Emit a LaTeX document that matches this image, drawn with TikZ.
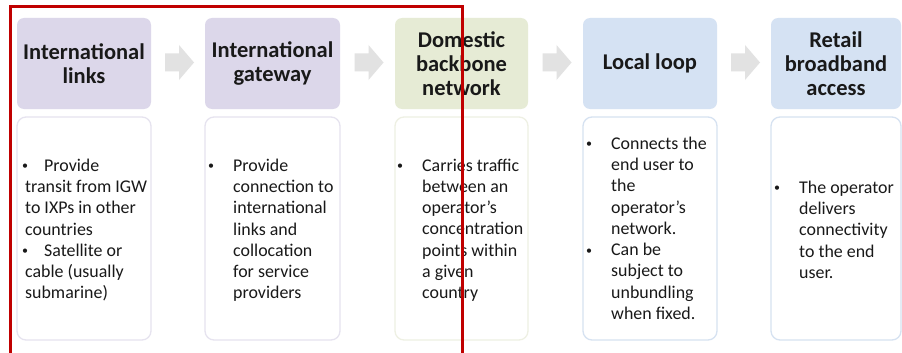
\documentclass[tikz,border=0pt]{standalone}
\usepackage{fontspec}
\setmainfont{Carlito}
\usetikzlibrary{calc}
\definecolor{hpurple}{HTML}{DCD7EA}
\definecolor{hgreen}{HTML}{E6EBD5}
\definecolor{hblue}{HTML}{D5E2F3}
\definecolor{bpurple}{HTML}{E6E3EF}
\definecolor{bgreen}{HTML}{EEF0E3}
\definecolor{bblue}{HTML}{D6E2F1}
\definecolor{arrowgray}{HTML}{E2E2E2}
\definecolor{framered}{HTML}{C00000}
\tikzset{
  head/.style={rounded corners=7pt, inner sep=0pt, align=center,
    font=\bfseries\fontsize{22.5}{24}\selectfont, text=black!90},
  bodybox/.style={rounded corners=9pt, fill=white, line width=1.3pt},
  body/.style={anchor=north west, align=left, inner sep=0pt,
    font=\fontsize{17.9}{21.3}\selectfont, text=black!90},
  flowarrow/.style={fill=arrowgray}
}
\newcommand{\smallbul}{\raisebox{1.5pt}{\fontsize{12}{12}\selectfont\textbullet}}
\newcommand{\blt}{\llap{\smallbul\hspace{19pt}}}
\begin{document}
\begin{tikzpicture}[x=1pt,y=-1pt]
\useasboundingbox (0,0) rectangle (902,353);
\fill[white] (0,0) rectangle (902,353);
% header boxes
\node[head, fill=hpurple, minimum width=134pt, minimum height=91pt] (h1) at (84,63.5) {\rule{0pt}{2pt}International\\links};
\node[head, fill=hpurple, minimum width=135pt, minimum height=91pt] (h2) at (272.5,63.5) {International\\gateway};
\node[head, fill=hgreen, minimum width=133pt, minimum height=91pt] (h3) at (461.5,63.5) {Domestic\\backbone\\network};
\node[head, fill=hblue, minimum width=134pt, minimum height=91pt] (h4) at (650,63.5) {Local loop};
\node[head, fill=hblue, minimum width=130pt, minimum height=91pt] (h5) at (836,63.5) {Retail\\broadband\\access};
% body boxes
\draw[bodybox, draw=bpurple] (17,117) rectangle (151,340);
\draw[bodybox, draw=bpurple] (205,117) rectangle (340,340);
\draw[bodybox, draw=bgreen] (395,117) rectangle (528,340);
\draw[bodybox, draw=bblue] (583,117) rectangle (717,340);
\draw[bodybox, draw=bblue] (771,117) rectangle (901,340);
% arrows
\foreach \a/\b/\n in {h1/h2/1,h2/h3/2,h3/h4/3,h4/h5/4}{
  \coordinate (m\n) at ($(\a.east)!0.5!(\b.west)+(1,-1)$);
  \fill[flowarrow] (m\n) ++(-14,-9) -- ++(14,0) -- ++(0,-8.5) -- ++(15,17.5)
     -- ++(-15,17.5) -- ++(0,-8.5) -- ++(-14,0) -- cycle;
}
% body texts
\node[body] (t1) at (25,158.5) {\hspace*{-3pt}\smallbul\hspace{16pt}Provide\\transit from IGW\\to IXPs in other\\countries\\\hspace*{-3pt}\smallbul\hspace{16pt}Satellite or\\cable (usually\\submarine)};
\node[body] (t2) at (233,158.5) {\blt Provide\\connection to\\international\\links and\\collocation\\for service\\providers};
\node[body] (t3) at (422,158.5) {\blt Carries traffic\\between an\\operator’s\\concentration\\points within\\a given\\country};
\node[body] (t4) at (611,136.5) {\blt Connects the\\end user to\\the\\operator’s\\network.\\\blt Can be\\subject to\\unbundling\\when fixed.};
\node[body] (t5) at (799,180.5) {\blt The operator\\delivers\\connectivity\\to the end\\user.};
% red frame
\draw[framered, line width=3pt] (10.5,380) -- (10.5,7) -- (462.5,7) -- (462.5,380);
\end{tikzpicture}
\end{document}
